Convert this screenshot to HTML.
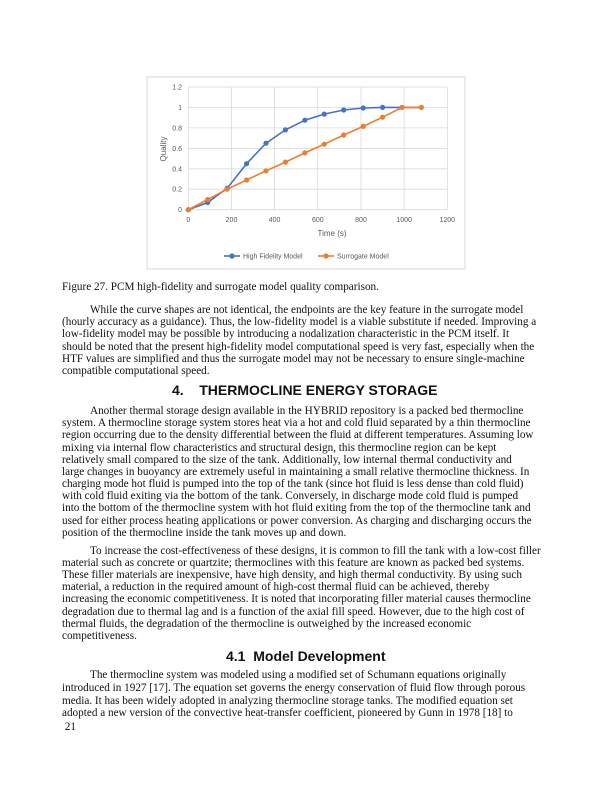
<!DOCTYPE html>
<html><head><meta charset="utf-8"><style>
body{margin:0;background:#fff;}
#p{position:relative;width:612px;height:792px;overflow:hidden;font-family:"Liberation Serif",serif;font-size:11.2px;color:#111;}
.l{position:absolute;left:62px;white-space:nowrap;line-height:12px;}
.i{left:90px;}
.h{position:absolute;font-family:"Liberation Sans",sans-serif;font-weight:bold;font-size:14px;line-height:16px;white-space:nowrap;}
</style></head><body><div id="p">
<svg width="612" height="280" style="position:absolute;left:0;top:0" font-family="Liberation Sans, sans-serif">
<rect x="147" y="77" width="318" height="192" fill="#fff" stroke="#d9d9d9"/>
<g stroke="#d9d9d9" stroke-width="0.8">
<line x1="188.3" y1="87" x2="447.3" y2="87"/><line x1="188.3" y1="107.4" x2="447.3" y2="107.4"/><line x1="188.3" y1="127.9" x2="447.3" y2="127.9"/><line x1="188.3" y1="148.3" x2="447.3" y2="148.3"/><line x1="188.3" y1="168.8" x2="447.3" y2="168.8"/><line x1="188.3" y1="189.2" x2="447.3" y2="189.2"/><line x1="188.3" y1="209.7" x2="447.3" y2="209.7"/>
<line x1="188.3" y1="87" x2="188.3" y2="209.7"/><line x1="231.5" y1="87" x2="231.5" y2="209.7"/><line x1="274.6" y1="87" x2="274.6" y2="209.7"/><line x1="317.8" y1="87" x2="317.8" y2="209.7"/><line x1="361" y1="87" x2="361" y2="209.7"/><line x1="404.1" y1="87" x2="404.1" y2="209.7"/><line x1="447.3" y1="87" x2="447.3" y2="209.7"/>
</g>
<g font-size="7" fill="#595959" text-anchor="end">
<text x="182" y="89.5">1.2</text><text x="182" y="110">1</text><text x="182" y="130.4">0.8</text><text x="182" y="150.8">0.6</text><text x="182" y="171.3">0.4</text><text x="182" y="191.7">0.2</text><text x="182" y="212.2">0</text>
</g>
<g font-size="7" fill="#595959" text-anchor="middle">
<text x="188.3" y="222">0</text><text x="231.5" y="222">200</text><text x="274.6" y="222">400</text><text x="317.8" y="222">600</text><text x="361" y="222">800</text><text x="404.1" y="222">1000</text><text x="447.3" y="222">1200</text>
<text x="332" y="236" font-size="8">Time (s)</text>
<text x="0" y="0" font-size="8" transform="translate(166,149) rotate(-90)">Quality</text>
</g>
<polyline fill="none" stroke="#4472c4" stroke-width="1.6" points="188.3,209.7 207.7,202.5 227.2,188.2 246.6,163.7 266,143.2 285.4,129.9 304.9,120.2 324.3,114.1 343.7,110 363.2,108 382.6,107.4 402,107.4 421.4,107.4"/>
<g fill="#4472c4"><circle cx="188.3" cy="209.7" r="2.6"/><circle cx="207.7" cy="202.5" r="2.6"/><circle cx="227.2" cy="188.2" r="2.6"/><circle cx="246.6" cy="163.7" r="2.6"/><circle cx="266" cy="143.2" r="2.6"/><circle cx="285.4" cy="129.9" r="2.6"/><circle cx="304.9" cy="120.2" r="2.6"/><circle cx="324.3" cy="114.1" r="2.6"/><circle cx="343.7" cy="110" r="2.6"/><circle cx="363.2" cy="108" r="2.6"/><circle cx="382.6" cy="107.4" r="2.6"/></g>
<polyline fill="none" stroke="#ed7d31" stroke-width="1.6" points="188.3,209.7 207.7,199.5 227.2,189.2 246.6,180 266,170.8 285.4,162.1 304.9,152.9 324.3,144.2 343.7,135 363.2,126.4 382.6,117.2 402,107.4 421.4,107.4"/>
<g fill="#ed7d31"><circle cx="188.3" cy="209.7" r="2.6"/><circle cx="207.7" cy="199.5" r="2.6"/><circle cx="227.2" cy="189.2" r="2.6"/><circle cx="246.6" cy="180" r="2.6"/><circle cx="266" cy="170.8" r="2.6"/><circle cx="285.4" cy="162.1" r="2.6"/><circle cx="304.9" cy="152.9" r="2.6"/><circle cx="324.3" cy="144.2" r="2.6"/><circle cx="343.7" cy="135" r="2.6"/><circle cx="363.2" cy="126.4" r="2.6"/><circle cx="382.6" cy="117.2" r="2.6"/><circle cx="402" cy="107.4" r="2.6"/><circle cx="421.4" cy="107.4" r="2.6"/></g>
<line x1="224" y1="256" x2="240" y2="256" stroke="#4472c4" stroke-width="1.6"/><circle cx="232" cy="256" r="2.6" fill="#4472c4"/>
<text x="243" y="258.5" font-size="7" fill="#595959">High Fidelity Model</text>
<line x1="318" y1="256" x2="334" y2="256" stroke="#ed7d31" stroke-width="1.6"/><circle cx="326" cy="256" r="2.6" fill="#ed7d31"/>
<text x="337" y="258.5" font-size="7" fill="#595959">Surrogate Model</text>
</svg>
<div class="l" style="top:281px">Figure 27. PCM high-fidelity and surrogate model quality comparison.</div>
<div class="l i" style="top:304px">While the curve shapes are not identical, the endpoints are the key feature in the surrogate model</div>
<div class="l" style="top:316.2px">(hourly accuracy as a guidance). Thus, the low-fidelity model is a viable substitute if needed. Improving a</div>
<div class="l" style="top:328.3px">low-fidelity model may be possible by introducing a nodalization characteristic in the PCM itself. It</div>
<div class="l" style="top:340.5px">should be noted that the present high-fidelity model computational speed is very fast, especially when the</div>
<div class="l" style="top:352.6px">HTF values are simplified and thus the surrogate model may not be necessary to ensure single-machine</div>
<div class="l" style="top:364.8px">compatible computational speed.</div>
<div class="h" style="left:172px;top:382px">4.&nbsp;&nbsp;&nbsp;&nbsp;THERMOCLINE ENERGY STORAGE</div>
<div class="l i" style="top:405px">Another thermal storage design available in the HYBRID repository is a packed bed thermocline</div>
<div class="l" style="top:417.2px">system. A thermocline storage system stores heat via a hot and cold fluid separated by a thin thermocline</div>
<div class="l" style="top:429.3px">region occurring due to the density differential between the fluid at different temperatures. Assuming low</div>
<div class="l" style="top:441.5px">mixing via internal flow characteristics and structural design, this thermocline region can be kept</div>
<div class="l" style="top:453.7px">relatively small compared to the size of the tank. Additionally, low internal thermal conductivity and</div>
<div class="l" style="top:465.9px">large changes in buoyancy are extremely useful in maintaining a small relative thermocline thickness. In</div>
<div class="l" style="top:478px">charging mode hot fluid is pumped into the top of the tank (since hot fluid is less dense than cold fluid)</div>
<div class="l" style="top:490.2px">with cold fluid exiting via the bottom of the tank. Conversely, in discharge mode cold fluid is pumped</div>
<div class="l" style="top:502.4px">into the bottom of the thermocline system with hot fluid exiting from the top of the thermocline tank and</div>
<div class="l" style="top:514.5px">used for either process heating applications or power conversion. As charging and discharging occurs the</div>
<div class="l" style="top:526.7px">position of the thermocline inside the tank moves up and down.</div>
<div class="l i" style="top:544.7px">To increase the cost-effectiveness of these designs, it is common to fill the tank with a low-cost filler</div>
<div class="l" style="top:556.9px">material such as concrete or quartzite; thermoclines with this feature are known as packed bed systems.</div>
<div class="l" style="top:569px">These filler materials are inexpensive, have high density, and high thermal conductivity. By using such</div>
<div class="l" style="top:581.2px">material, a reduction in the required amount of high-cost thermal fluid can be achieved, thereby</div>
<div class="l" style="top:593.4px">increasing the economic competitiveness. It is noted that incorporating filler material causes thermocline</div>
<div class="l" style="top:605.6px">degradation due to thermal lag and is a function of the axial fill speed. However, due to the high cost of</div>
<div class="l" style="top:617.7px">thermal fluids, the degradation of the thermocline is outweighed by the increased economic</div>
<div class="l" style="top:629.9px">competitiveness.</div>
<div class="h" style="left:226px;top:648px">4.1&nbsp; Model Development</div>
<div class="l i" style="top:669px">The thermocline system was modeled using a modified set of Schumann equations originally</div>
<div class="l" style="top:681.7px">introduced in 1927 [17]. The equation set governs the energy conservation of fluid flow through porous</div>
<div class="l" style="top:694.7px">media. It has been widely adopted in analyzing thermocline storage tanks. The modified equation set</div>
<div class="l" style="top:707.3px">adopted a new version of the convective heat-transfer coefficient, pioneered by Gunn in 1978 [18] to</div>
<div class="l" style="top:720.7px">&nbsp;21</div>
</div></body></html>
